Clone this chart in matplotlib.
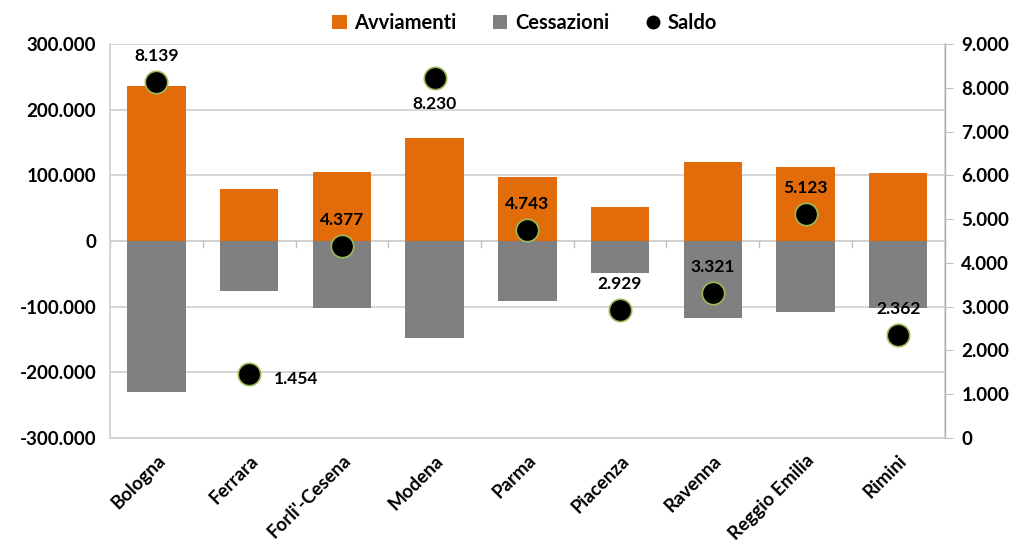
import matplotlib
matplotlib.use("Agg")
import matplotlib.pyplot as plt
from matplotlib.ticker import FuncFormatter, FixedLocator
from matplotlib.lines import Line2D
from matplotlib.patches import Patch
import numpy as np

province = ["Bologna", "Ferrara", "Forli'-Cesena", "Modena", "Parma",
            "Piacenza", "Ravenna", "Reggio Emilia", "Rimini"]
avviamenti = [236000, 79000, 105000, 157000, 97000, 52000, 120000, 113000, 103000]
cessazioni = [-230000, -76000, -102000, -148000, -91000, -49000, -117000, -108000, -102000]
saldo = [8139, 1454, 4377, 8230, 4743, 2929, 3321, 5123, 2362]
saldo_labels = ["8.139", "1.454", "4.377", "8.230", "4.743", "2.929", "3.321", "5.123", "2.362"]
label_pos = ["above", "right", "above", "below", "above", "above", "above", "above", "above"]

plt.rcParams['font.family'] = ['Lato', 'DejaVu Sans']
plt.rcParams['font.weight'] = 'bold'

ORANGE = "#E36C0A"
GRAY = "#808080"
GRID = "#D0D0D0"

fig = plt.figure(figsize=(10.19, 5.52), dpi=100)
ax = fig.add_axes([0.108, 0.2065, 0.819, 0.7135])
ax2 = ax.twinx()

x = np.arange(len(province))
w = 0.63
ax.bar(x, avviamenti, width=w, color=ORANGE, zorder=2)
ax.bar(x, cessazioni, width=w, color=GRAY, zorder=2)

ax.set_xlim(-0.5, len(province) - 0.5)
ax.set_ylim(-300000, 300000)
ax.yaxis.set_major_locator(FixedLocator(np.arange(-300000, 300001, 100000)))

def fmt_thousands(v, pos):
    s = f"{abs(int(round(v))):,}".replace(",", ".")
    return ("-" if v < 0 else "") + s

ax.yaxis.set_major_formatter(FuncFormatter(fmt_thousands))
ax.grid(axis='y', color=GRID, linewidth=1.2, zorder=0)
ax.set_axisbelow(True)
ax.axhline(0, color=GRID, linewidth=1.2, zorder=1)
# category tick marks on zero line
for b in np.arange(-0.5, len(province), 1.0):
    ax.plot([b, b], [0, -9000], color="#BFBFBF", lw=1, zorder=1, clip_on=False)

ax.spines["top"].set_visible(False)
ax2.spines["top"].set_visible(False)
ax.spines["bottom"].set_color(GRID)
ax.spines["left"].set_color(GRID)
ax2.spines["right"].set_color(GRID)
ax2.spines["left"].set_visible(False)
ax2.spines["bottom"].set_visible(False)
ax.spines["left"].set_linewidth(1.2)
ax2.spines["right"].set_linewidth(1.2)
ax.spines["bottom"].set_linewidth(1.2)

ax.tick_params(axis='y', length=0, labelsize=13.5, pad=10)
ax.tick_params(axis='x', length=0, labelsize=13.5, pad=10)
ax.set_xticks(x)
ax.set_xticklabels(province, rotation=45, ha='right', rotation_mode='anchor', fontweight='bold')
for t in ax.get_yticklabels():
    t.set_fontweight('bold')

ax2.set_ylim(0, 9000)
ax2.yaxis.set_major_locator(FixedLocator(np.arange(0, 9001, 1000)))
ax2.yaxis.set_major_formatter(FuncFormatter(fmt_thousands))
ax2.tick_params(axis='y', length=6, color="#BFBFBF", labelsize=13.5, pad=6)
for t in ax2.get_yticklabels():
    t.set_fontweight('bold')

ax2.scatter(x, saldo, s=260, color='black', edgecolors='#9BBB59', linewidths=1.2, zorder=5)
for xi, yi, lab, pos in zip(x, saldo, saldo_labels, label_pos):
    if pos == "above":
        ax2.annotate(lab, (xi, yi), xytext=(0, 13), textcoords='offset points',
                     ha='center', va='bottom', fontsize=12.5, fontweight='bold')
    elif pos == "below":
        ax2.annotate(lab, (xi, yi), xytext=(0, -13), textcoords='offset points',
                     ha='center', va='top', fontsize=12.5, fontweight='bold')
    else:
        ax2.annotate(lab, (xi, yi), xytext=(18, -3), textcoords='offset points',
                     ha='left', va='center', fontsize=12.5, fontweight='bold')

handles = [Patch(facecolor=ORANGE, label="Avviamenti"),
           Patch(facecolor=GRAY, label="Cessazioni"),
           Line2D([], [], marker='o', color='black', linestyle='None', markersize=9, label="Saldo")]
fig.legend(handles=handles, loc='center', bbox_to_anchor=(0.515, 0.958), ncol=3, frameon=False,
           prop={'size': 14.5, 'weight': 'bold'}, handlelength=0.7, handleheight=0.7,
           handletextpad=0.4, columnspacing=1.8)

fig.savefig("out.png", dpi=100)
